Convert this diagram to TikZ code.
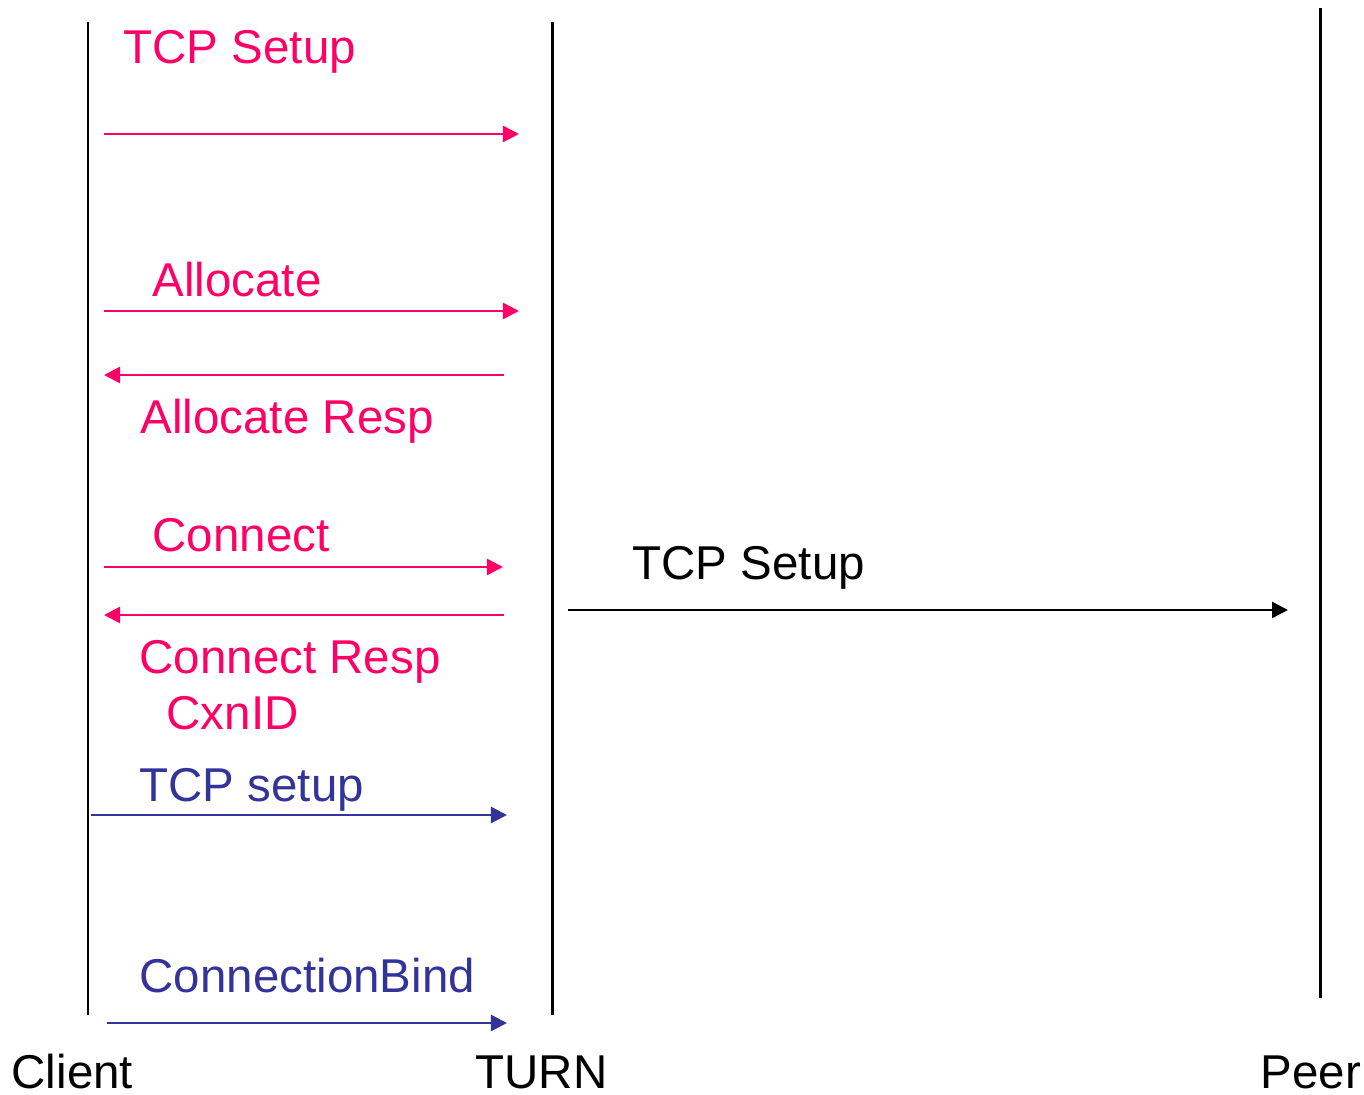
\documentclass[tikz,border=0pt]{standalone}
\usepackage{fontspec}
\setmainfont{Liberation Sans}
\usepackage{tikz}
\usetikzlibrary{arrows.meta, positioning}

\definecolor{msgpink}{RGB}{255,0,102}
\definecolor{msgblue}{RGB}{51,51,153}

\begin{document}
\begin{tikzpicture}[x=0.01cm, y=-0.01cm,
	lbl/.style={anchor=base west, inner sep=0pt, font=\fontsize{13.5}{16}\selectfont},
	life/.style={line width=0.85pt},
	msg/.style={line width=0.7pt, -{Triangle[length=0.16cm, width=0.16cm]}}]
	\useasboundingbox (0,0) rectangle (1364,1095);
	% lifelines
	\coordinate (c1) at (88,22);   \coordinate (c2) at (88,1015);
	\coordinate (t1) at (552,22);  \coordinate (t2) at (552,1015);
	\coordinate (p1) at (1320,8);  \coordinate (p2) at (1320,998);
	\node[lbl] (client) at (11,1088) {Client};
	\node[lbl] (turn) at (475,1088) {TURN};
	\node[lbl] (peer) at (1260,1088) {Peer};
	% labels
	\node[lbl, msgpink] (tcpsetup) at (123,64) {TCP Setup};
	\node[lbl, msgpink] (allocate) at (152,297) {Allocate};
	\node[lbl, msgpink] (allocresp) at (140,434) {Allocate Resp};
	\node[lbl, msgpink] (connect) at (152,552) {Connect};
	\node[lbl, msgpink] (connresp) at (139,674) {Connect Resp};
	\node[lbl, msgpink] (cxnid) at (166,730) {CxnID};
	\node[lbl, msgblue] (tcpsetupb) at (139,801) {TCP setup};
	\node[lbl, msgblue] (connbind) at (139,992) {ConnectionBind};
	\node[lbl] (peersetup) at (632,580) {TCP Setup};
	% message ends
	\coordinate (m1a) at (104,134);  \coordinate (m1b) at (519,134);
	\coordinate (m2a) at (104,311);  \coordinate (m2b) at (519,311);
	\coordinate (m3a) at (504,375);  \coordinate (m3b) at (104,375);
	\coordinate (m4a) at (104,567);  \coordinate (m4b) at (503,567);
	\coordinate (m5a) at (504,615);  \coordinate (m5b) at (104,615);
	\coordinate (m6a) at (568,610);  \coordinate (m6b) at (1288,610);
	\coordinate (m7a) at (91,815);   \coordinate (m7b) at (507,815);
	\coordinate (m8a) at (107,1023); \coordinate (m8b) at (507,1023);
	\path
		(c1) edge [life] (c2)
		(t1) edge [life] (t2)
		(p1) edge [life] (p2)
		(m1a) edge [msg, msgpink] (m1b)
		(m2a) edge [msg, msgpink] (m2b)
		(m3a) edge [msg, msgpink] (m3b)
		(m4a) edge [msg, msgpink] (m4b)
		(m5a) edge [msg, msgpink] (m5b)
		(m6a) edge [msg] (m6b)
		(m7a) edge [msg, msgblue] (m7b)
		(m8a) edge [msg, msgblue] (m8b)
	;
\end{tikzpicture}
\end{document}
